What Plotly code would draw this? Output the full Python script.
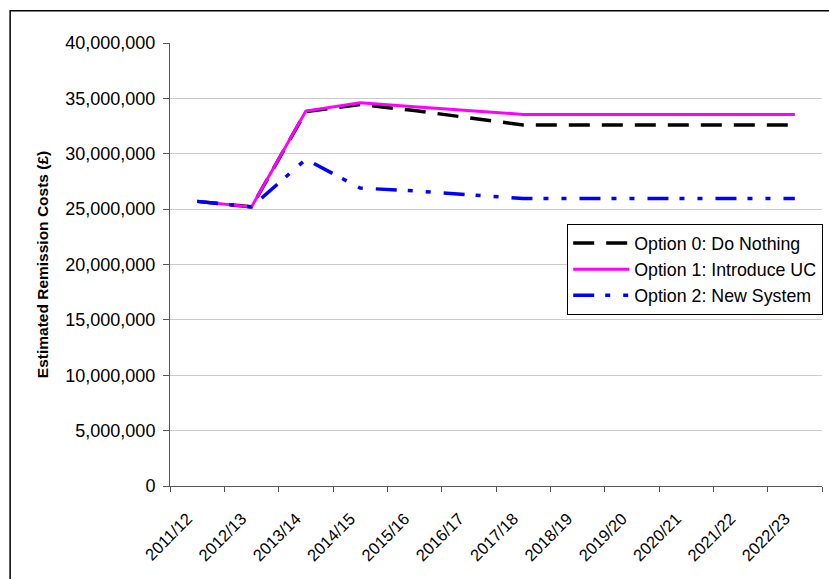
import plotly.graph_objects as go

years = ["2011/12", "2012/13", "2013/14", "2014/15", "2015/16", "2016/17",
         "2017/18", "2018/19", "2019/20", "2020/21", "2021/22", "2022/23"]

option0 = [25_700_000, 25_200_000, 33_800_000, 34_450_000, 33_900_000, 33_250_000,
           32_600_000, 32_600_000, 32_600_000, 32_600_000, 32_600_000, 32_600_000]
option1 = [25_700_000, 25_200_000, 33_850_000, 34_600_000, 34_250_000, 33_900_000,
           33_550_000, 33_550_000, 33_550_000, 33_550_000, 33_550_000, 33_550_000]
option2 = [25_700_000, 25_200_000, 29_500_000, 26_900_000, 26_650_000, 26_300_000,
           25_950_000, 25_950_000, 25_950_000, 25_950_000, 25_950_000, 25_950_000]

names = ["Option 0: Do Nothing", "Option 1: Introduce UC", "Option 2: New System"]

FONT = "Arial, Liberation Sans, sans-serif"

fig = go.Figure()
fig.add_trace(go.Scatter(x=years, y=option0, name=names[0], mode="lines",
                         line=dict(color="#000000", width=3.5, dash="21px,12px")))
fig.add_trace(go.Scatter(x=years, y=option1, name=names[1], mode="lines",
                         line=dict(color="#ff00ff", width=3)))
fig.add_trace(go.Scatter(x=years, y=option2, name=names[2], mode="lines",
                         line=dict(color="#0000ff", width=3.5,
                                   dash="21px,11px,5px,13px,5px,13px")))

L, R, T, B = 169.5, 822, 43, 486
W, H = 829, 579
pw, ph = R - L, B - T

# rotated year labels sit a little further down-left of each category centre
year_labels = [y + "\u00a0" * 3 for y in years]

fig.update_layout(
    width=W, height=H,
    margin=dict(l=L, r=W - R, t=T, b=H - B, pad=0, autoexpand=False),
    paper_bgcolor="white", plot_bgcolor="white",
    font=dict(family=FONT, color="black"),
    showlegend=True,
    legend=dict(
        x=(567 - L) / pw, y=(B - 224) / ph, xanchor="left", yanchor="top",
        bgcolor="white", bordercolor="#000000", borderwidth=1,
        font=dict(size=17.8, family=FONT), itemwidth=56,
        tracegroupgap=0,
    ),
    xaxis=dict(
        type="category", tickangle=-45, tickson="boundaries",
        tickmode="array", tickvals=years, ticktext=year_labels,
        ticks="outside", ticklen=5, tickcolor="#555555",
        showline=True, linecolor="#555555", linewidth=1,
        showgrid=False, tickfont=dict(size=16.5, family=FONT),
        ticklabelstandoff=6, automargin=False,
        range=[-0.5, len(years) - 0.5],
    ),
    yaxis=dict(
        range=[0, 40_000_000], dtick=5_000_000, tickformat=",d",
        ticks="outside", ticklen=6, tickcolor="#555555",
        showline=True, linecolor="#555555", linewidth=1,
        showgrid=True, gridcolor="#cccccc", gridwidth=1,
        zeroline=False, automargin=False,
        tickfont=dict(size=18, family=FONT),
        ticklabelstandoff=4,
        title=dict(text="<b>Estimated Remission Costs (£)</b>",
                   font=dict(size=15.5, family=FONT), standoff=12),
    ),
    shapes=[dict(type="rect", xref="paper", yref="paper",
                 x0=(9.5 - L) / pw, x1=1.1, y0=-0.3, y1=(B - 10.7) / ph,
                 line=dict(color="#000000", width=1.5), layer="below")],
)

fig.write_html("out.html")
